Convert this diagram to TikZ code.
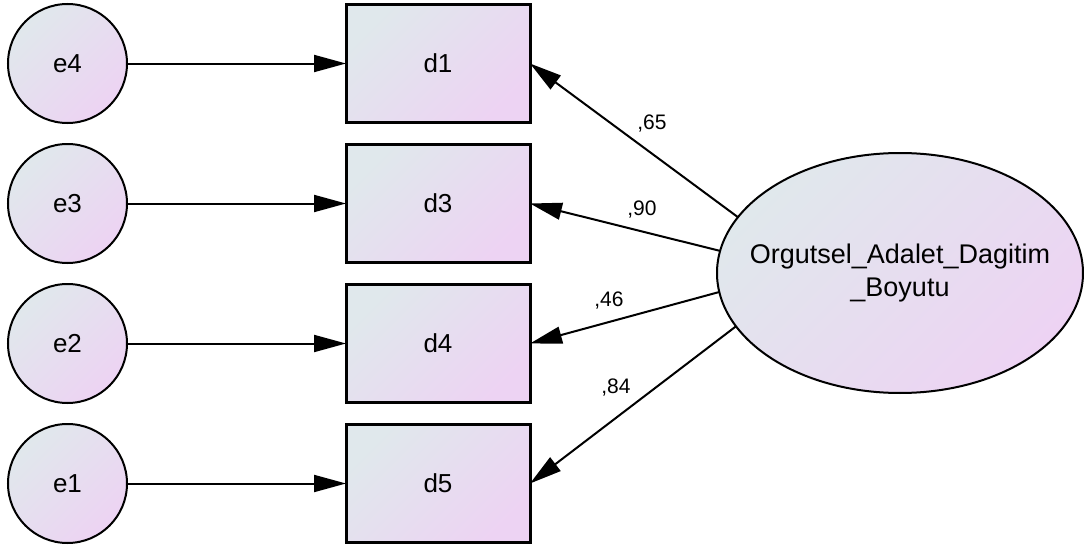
\documentclass[tikz,border=0pt]{standalone}
\usepackage{fontspec}
\setmainfont{Liberation Sans}
\usetikzlibrary{positioning,shapes.geometric,arrows.meta}
\definecolor{topc}{HTML}{E0E8EC}
\definecolor{botc}{HTML}{EDD3F3}

\begin{document}
\begin{tikzpicture}[x=0.5pt, y=-0.5pt,
    font=\fontsize{13}{16.5}\selectfont,
    node distance=10.5pt,
    amos/.style={top color=topc, bottom color=botc, shading angle=45},
    err/.style={circle, draw, line width=1pt, amos, minimum size=59.5pt, inner sep=0pt, outer sep=0pt},
    obs/.style={rectangle, draw, line width=1.5pt, amos, minimum width=92pt, minimum height=59pt, outer sep=0pt},
    lat/.style={ellipse, draw, line width=1pt, amos, minimum width=183pt, minimum height=120pt, align=center, inner xsep=-12pt, inner ysep=0pt, outer sep=0pt},
    reg/.style={-{Triangle[length=16pt, width=8.5pt]}, line width=1pt},
    coef/.style={font=\fontsize{10.5}{12}\selectfont}]
    \useasboundingbox (0,0) rectangle (1084,546);

    % error terms
    \node [err] (e4) at (67.5,63.5) {e4};
    \node [err, below=of e4] (e3) {e3};
    \node [err, below=of e3] (e2) {e2};
    \node [err, below=of e2] (e1) {e1};

    % observed items
    \node [obs, right=109.5pt of e4] (d1) {d1};
    \node [obs, right=109.5pt of e3] (d3) {d3};
    \node [obs, right=109.5pt of e2] (d4) {d4};
    \node [obs, right=109.5pt of e1] (d5) {d5};

    % latent factor
    \node [lat, font=\fontsize{13.5}{16.5}\selectfont] (fac) at (900,273) {Orgutsel\_Adalet\_Dagitim\\\_Boyutu};

    \foreach \e/\d in {e4/d1, e3/d3, e2/d4, e1/d5}
        \draw [reg] (\e) -- (\d);

    \draw [reg] (fac.161.5) -- (d1.east);
    \draw [reg] (fac.173.7) -- (d3.east);
    \draw [reg] (fac.186.3) -- (d4.east);
    \draw [reg] (fac.198.5) -- (d5.east);

    \node [coef] (c65) at (652,124) {,65};
    \node [coef] (c90) at (642,210) {,90};
    \node [coef] (c46) at (609,301) {,46};
    \node [coef] (c84) at (616,388) {,84};
\end{tikzpicture}
\end{document}
